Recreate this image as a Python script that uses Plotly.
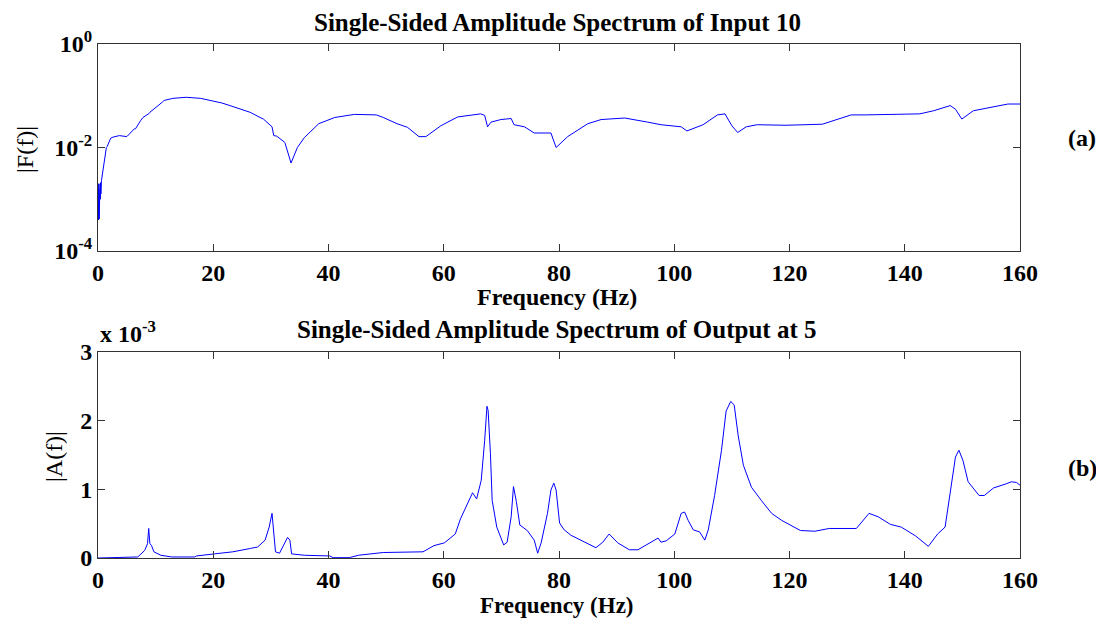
import plotly.graph_objects as go

# ---- data: top panel, single-sided amplitude spectrum of input (log10 of |F(f)|) ----
freq_in = [0.0, 0.05, 0.1, 0.15, 0.2, 0.25, 0.3, 0.35, 0.4, 0.45, 0.5, 0.6, 0.9, 1.2, 1.45, 1.6, 2.2, 2.6,
           3.4, 3.7, 5.0, 5.1, 6.3, 6.5, 7.4, 7.8, 8.9, 9.0, 11.2, 11.5, 13.0, 14.6, 15.3,
           17.8, 18.2, 21.5, 22.9, 25.2, 26.4, 28.3, 28.7, 30.2, 30.5, 31.0, 32.4, 32.5,
           33.2, 33.5, 34.6, 35.8, 38.3, 41.1, 44.5, 48.3, 49.5, 51.9, 53.7, 55.7, 56.9,
           59.5, 62.4, 64.7, 66.4, 67.1, 67.6, 68.2, 69.9, 71.7, 72.2, 74.0, 75.7, 78.6,
           79.5, 81.5, 85.0, 87.3, 91.4, 95.4, 97.7, 101.2, 102.2, 105.0, 107.5, 108.8, 110.0,
           111.0, 112.5, 114.4, 119.4, 125.7, 130.7, 133.2, 142.6, 145.0, 147.9, 148.8,
           149.9, 151.9, 155.7, 157.9, 160.0]
log_amp_in = [-3.3, -2.7, -3.4, -2.8, -3.38, -2.75, -3.2, -2.7, -3.0, -2.68, -2.9, -2.64, -2.39, -2.19, -2.0, -1.98, -1.82, -1.8,
              -1.77, -1.77, -1.79, -1.78, -1.64, -1.64, -1.48, -1.42, -1.34, -1.32, -1.12, -1.09, -1.05, -1.03, -1.03,
              -1.05, -1.06, -1.14, -1.19, -1.27, -1.32, -1.43, -1.45, -1.6, -1.77, -1.78, -1.9, -1.93,
              -2.22, -2.3, -2.0, -1.81, -1.54, -1.42, -1.36, -1.37, -1.42, -1.54, -1.61, -1.79, -1.79,
              -1.58, -1.41, -1.37, -1.35, -1.38, -1.6, -1.51, -1.46, -1.44, -1.56, -1.6, -1.72, -1.72,
              -2.0, -1.79, -1.54, -1.46, -1.43, -1.51, -1.56, -1.6, -1.68, -1.56, -1.37, -1.35, -1.58,
              -1.71, -1.6, -1.56, -1.57, -1.55, -1.37, -1.37, -1.35, -1.29, -1.19, -1.26,
              -1.45, -1.29, -1.21, -1.16, -1.16]
amp_in = [10 ** v for v in log_amp_in]

# ---- data: bottom panel, single-sided amplitude spectrum of output (x 1e-3) ----
freq_out = [0.0, 6.9, 8.1, 8.6, 8.8, 9.0, 9.3, 9.7, 10.9, 12.8, 16.8, 17.1, 20.2, 23.4, 26.5, 27.7,
            29.0, 29.7, 30.2, 30.5, 30.8, 31.5, 32.1, 32.9, 33.3, 33.6, 35.8, 40.2, 40.8, 43.6,
            45.2, 49.5, 56.4, 58.3, 60.1, 62.0, 62.9, 63.9, 65.0, 65.7, 66.5, 67.1, 67.5, 67.7,
            68.1, 68.4, 69.2, 70.4, 71.0, 71.7, 72.1, 72.6, 73.2, 74.5, 75.7, 76.3, 76.9, 78.0,
            78.6, 79.1, 79.5, 80.1, 80.9, 82.1, 84.4, 86.4, 87.6, 88.7, 90.2, 92.2, 93.7, 95.4,
            96.6, 97.2, 97.7, 98.6, 100.1, 101.2, 101.8, 102.4, 103.3, 104.4, 105.3, 105.9,
            107.0, 108.2, 109.0, 109.8, 110.4, 111.1, 112.0, 113.4, 115.1, 116.9, 118.6, 121.9,
            124.4, 126.9, 131.6, 133.8, 135.4, 137.5, 139.4, 141.9, 144.1, 145.7, 147.0, 147.9,
            148.8, 149.4, 150.1, 151.0, 152.9, 153.8, 155.4, 157.6, 158.5, 159.4, 160.0]
amp_out_milli = [0.0, 0.015, 0.11, 0.21, 0.43, 0.21, 0.18, 0.09, 0.04, 0.015, 0.015, 0.03, 0.06, 0.09, 0.14, 0.16,
                 0.26, 0.45, 0.65, 0.4, 0.09, 0.07, 0.16, 0.3, 0.26, 0.06, 0.04, 0.03, 0.005, 0.005,
                 0.04, 0.08, 0.09, 0.18, 0.22, 0.35, 0.57, 0.74, 0.95, 0.86, 1.13, 1.71, 2.21, 2.15,
                 1.52, 0.84, 0.45, 0.19, 0.23, 0.6, 1.04, 0.82, 0.48, 0.4, 0.26, 0.07, 0.22, 0.65,
                 0.99, 1.09, 0.99, 0.51, 0.41, 0.33, 0.23, 0.15, 0.23, 0.35, 0.22, 0.12, 0.12, 0.2,
                 0.25, 0.29, 0.23, 0.25, 0.35, 0.65, 0.67, 0.55, 0.41, 0.38, 0.26, 0.41,
                 0.91, 1.57, 2.14, 2.28, 2.23, 1.78, 1.35, 1.03, 0.84, 0.65, 0.55, 0.4,
                 0.39, 0.43, 0.43, 0.65, 0.6, 0.49, 0.45, 0.32, 0.17, 0.35, 0.45, 0.94,
                 1.47, 1.57, 1.42, 1.11, 0.91, 0.91, 1.02, 1.08, 1.11, 1.1, 1.06]
amp_out = [v * 1e-3 for v in amp_out_milli]

x_ticks = [0, 20, 40, 60, 80, 100, 120, 140, 160]
top_y_tickvals = [1e-4, 1e-2, 1]
top_y_ticktext = ["10<sup>-4</sup>", "10<sup>-2</sup>", "10<sup>0</sup>"]
bot_y_tickvals = [0, 1e-3, 2e-3, 3e-3]
bot_y_ticktext = ["0", "1", "2", "3"]

# the page body keeps its default 8px margin; lay out in screen pixels and compensate
OFF = 8
W, H = 1104 - OFF, 619 - OFF
SERIF = "Liberation Serif"
LINE = "blue"


def px(x):
    return (x - OFF) / W


def py(y):
    return 1 - (y - OFF) / H


fig = go.Figure()
fig.add_trace(go.Scatter(x=freq_in, y=amp_in, mode="lines", line=dict(color=LINE, width=1),
                         xaxis="x", yaxis="y", showlegend=False))
fig.add_trace(go.Scatter(x=freq_out, y=amp_out, mode="lines", line=dict(color=LINE, width=1),
                         xaxis="x2", yaxis="y2", showlegend=False))

tickfont = dict(family=SERIF, size=24, color="black", weight="bold")
axis_style = dict(ticks="inside", ticklen=7, tickcolor="#333", showline=True, linecolor="#333",
                  linewidth=1, mirror="ticks", showgrid=False, zeroline=False, tickfont=tickfont,
                  automargin=False)
common_x = dict(range=[0, 160], tickvals=x_ticks, domain=[px(98), px(1020)], **axis_style)

fig.update_layout(
    template="none",
    width=W, height=H, margin=dict(l=0, r=0, t=0, b=0, pad=0),
    paper_bgcolor="white", plot_bgcolor="white",
    xaxis=dict(anchor="y", **common_x),
    yaxis=dict(type="log", range=[-4, 0], tickvals=top_y_tickvals, ticktext=top_y_ticktext,
               domain=[py(251), py(44)], anchor="x", **axis_style),
    xaxis2=dict(anchor="y2", **common_x),
    yaxis2=dict(range=[0, 3e-3], tickvals=bot_y_tickvals, ticktext=bot_y_ticktext,
                domain=[py(558), py(352)], anchor="x2", **axis_style),
)

bold = dict(family=SERIF, size=25, color="black", weight="bold")
lab = dict(family=SERIF, size=24, color="black", weight="bold")
lab_small = dict(family=SERIF, size=23, color="black", weight="bold")
reg = dict(family=SERIF, size=24, color="black")
annots = [
    dict(text="Single-Sided Amplitude Spectrum of Input 10", x=px(557), y=py(22), font=bold),
    dict(text="Frequency (Hz)", x=px(557), y=py(297), font=lab),
    dict(text="Single-Sided Amplitude Spectrum of Output at 5", x=px(557), y=py(329), font=bold),
    dict(text="Frequency (Hz)", x=px(557), y=py(605), font=lab_small),
    dict(text="x 10<sup>-3</sup>", x=px(98), y=py(332), font=lab, xanchor="left"),
    dict(text="|F(f)|", x=px(25), y=py(150), font=reg, textangle=-90),
    dict(text="|A(f)|", x=px(54), y=py(457), font=reg, textangle=-90),
    dict(text="(a)", x=px(1082), y=py(138), font=lab),
    dict(text="(b)", x=px(1082), y=py(468), font=lab),
]
for a in annots:
    a.setdefault("xanchor", "center")
    fig.add_annotation(xref="paper", yref="paper", showarrow=False, yanchor="middle", **a)

fig.write_html("out.html")
